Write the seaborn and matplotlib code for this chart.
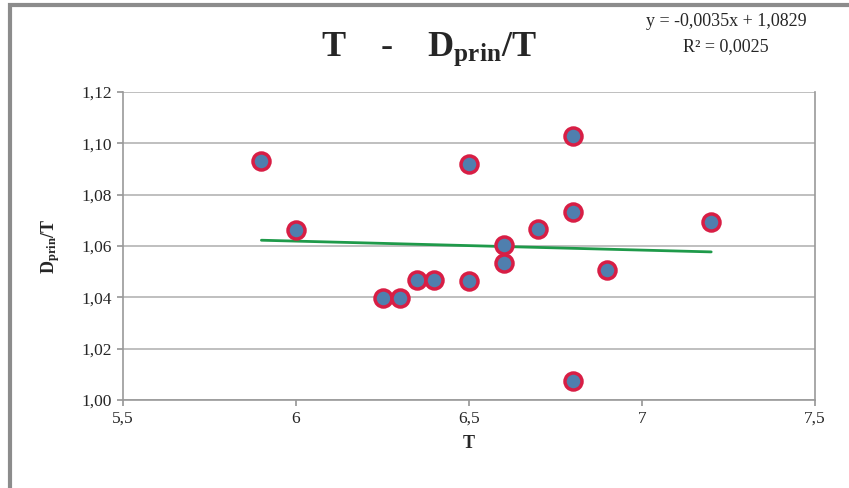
import numpy as np
import pandas as pd
import seaborn as sns
import matplotlib
matplotlib.use("Agg")
import matplotlib.pyplot as plt
from matplotlib.patches import Rectangle

T = [5.9, 6.0, 6.25, 6.3, 6.35, 6.4, 6.5, 6.5, 6.6, 6.6, 6.7, 6.8, 6.8, 6.8, 6.9, 7.2]
D_T = [1.0931, 1.0662, 1.0397, 1.0397, 1.0468, 1.0468, 1.0919, 1.0464, 1.0604,
       1.0534, 1.0666, 1.1029, 1.0732, 1.0074, 1.0506, 1.0694]
slope = -0.0035
intercept = 1.0829
x_ticks = [5.5, 6, 6.5, 7, 7.5]
x_tick_labels = ["5,5", "6", "6,5", "7", "7,5"]
y_ticks = [1.00, 1.02, 1.04, 1.06, 1.08, 1.10, 1.12]
y_tick_labels = ["1,00", "1,02", "1,04", "1,06", "1,08", "1,10", "1,12"]

sns.set_theme(style="white")
plt.rcParams['font.family'] = ['Liberation Serif', 'DejaVu Serif']
plt.rcParams['mathtext.fontset'] = 'custom'
plt.rcParams['mathtext.rm'] = 'Liberation Serif'
plt.rcParams['mathtext.bf'] = 'Liberation Serif:bold'

df = pd.DataFrame({"T": T, "D": D_T})

fig = plt.figure(figsize=(8.49, 4.88), dpi=100)
ax = fig.add_axes([123/849, 1 - 400/488, (815-123)/849, (400-92)/488])

# outer border
fig.patches.append(Rectangle((10/849, -0.05), 1.2, 1.0 - 5/488 + 0.05,
                             transform=fig.transFigure, fill=False,
                             edgecolor="#8c8c8c", linewidth=3, zorder=0))

for yv in y_ticks:
    ax.axhline(yv, color="#b4b4b4", linewidth=1.2, zorder=0)

xl = np.array([min(T), max(T)])
ax.plot(xl, slope * xl + intercept, color="#1f9a4a", linewidth=2, zorder=2)

sns.scatterplot(data=df, x="T", y="D", ax=ax, s=150, color="#4f7fae",
                edgecolor="#d81e45", linewidth=2.5, zorder=3, legend=False)

ax.set_xlim(5.5, 7.5)
ax.set_ylim(1.00, 1.12)
ax.set_xticks(x_ticks)
ax.set_xticklabels(x_tick_labels, fontsize=12.5)
ax.set_yticks(y_ticks)
ax.set_yticklabels(y_tick_labels, fontsize=12.5)
for s in ["left", "right", "bottom"]:
    ax.spines[s].set_color("#999999")
    ax.spines[s].set_linewidth(1.2)
ax.spines["top"].set_visible(False)
ax.tick_params(axis="both", length=4, color="#999999", direction="out", pad=4)
ax.tick_params(axis="x", bottom=True)
ax.tick_params(axis="y", left=True)

ax.set_xlabel("T", fontsize=13, fontweight="bold", labelpad=6)
ax.set_ylabel(r"$\mathbf{D_{prin}/T}$", fontsize=13, labelpad=14)

fig.text(0.505, 0.9, r"$\mathbf{T\ \ \ \text{-}\ \ \ D_{prin}/T}$", ha="center", va="center", fontsize=26)
fig.text(0.855, 0.955, "y = -0,0035x + 1,0829", ha="center", va="center", fontsize=13)
fig.text(0.855, 0.905, "R² = 0,0025", ha="center", va="center", fontsize=13)

fig.savefig("out.png", dpi=100, facecolor="white")
